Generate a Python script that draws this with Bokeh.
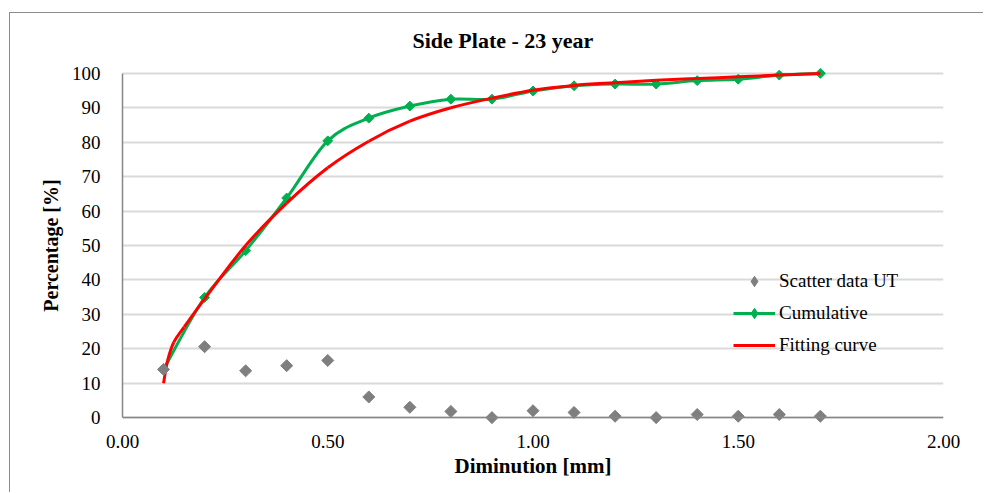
from bokeh.plotting import figure
from bokeh.models import (Range1d, FixedTicker, NumeralTickFormatter, Legend, LegendItem,
                          ColumnDataSource, Span)
from bokeh.embed import file_html
from bokeh.resources import INLINE

# ---------------- data ----------------
diminution = [0.1, 0.2, 0.3, 0.4, 0.5, 0.6, 0.7, 0.8, 0.9, 1.0, 1.1, 1.2, 1.3, 1.4, 1.5, 1.6, 1.7]
scatter_ut = [14.0, 20.6, 13.6, 15.1, 16.6, 6.0, 3.0, 1.8, 0.0, 2.0, 1.5, 0.4, 0.0, 0.9, 0.4, 0.9, 0.4]
cumulative = [14.0, 34.9, 48.5, 63.8, 80.4, 87.0, 90.5, 92.5, 92.5, 94.9, 96.4, 96.9, 96.9, 97.9, 98.3, 99.5, 100.0]
fit_x = [0.10, 0.11, 0.125, 0.15, 0.2, 0.3, 0.4, 0.5, 0.6, 0.7, 0.8, 0.9, 1.0, 1.1, 1.2, 1.3, 1.4, 1.5, 1.6, 1.7]
fit_y = [10.0, 16.6, 21.9, 26.3, 34.5, 50.0, 62.3, 72.6, 80.3, 86.1, 90.0, 92.8, 95.1, 96.5, 97.3, 98.0, 98.5, 99.0, 99.5, 100.0]
x_ticks = [0.0, 0.5, 1.0, 1.5, 2.0]
y_ticks = [0, 10, 20, 30, 40, 50, 60, 70, 80, 90, 100]
title_text = "Side Plate - 23 year"
x_label = "Diminution [mm]"
y_label = "Percentage [%]"
series_names = ["Scatter data UT", "Cumulative", "Fitting curve"]


def smooth(xs, ys):
    """Bezier segments (Catmull-Rom style) through the given points, like Excel's smoothed line."""
    n = len(xs)
    d = dict(x0=[], y0=[], x1=[], y1=[], cx0=[], cy0=[], cx1=[], cy1=[])
    for i in range(n - 1):
        a = max(i - 1, 0)
        b = min(i + 2, n - 1)
        d["x0"].append(xs[i]); d["y0"].append(ys[i])
        d["x1"].append(xs[i + 1]); d["y1"].append(ys[i + 1])
        d["cx0"].append(xs[i] + (xs[i + 1] - xs[a]) / 6.0)
        d["cy0"].append(ys[i] + (ys[i + 1] - ys[a]) / 6.0)
        d["cx1"].append(xs[i + 1] - (xs[b] - xs[i]) / 6.0)
        d["cy1"].append(ys[i + 1] - (ys[b] - ys[i]) / 6.0)
    return ColumnDataSource(d)


FONT = "Liberation Serif"
GREEN = "#00b050"
RED = "#ff0000"
GRAY = "#7f7f7f"
AXIS = "#868686"

p = figure(width=974, height=480, output_backend="svg", toolbar_location=None,
           x_range=Range1d(0, 2), y_range=Range1d(-2, 102),
           min_border_left=112, min_border_right=41, min_border_top=53, min_border_bottom=69,
           margin=(12, 0, 0, 9),
           styles={"border-top": "1px solid #8c8c8c", "border-left": "1px solid #8c8c8c"},
           background_fill_color="white", border_fill_color="white", outline_line_color=None)

# title
p.title.text = title_text
p.title.text_font = FONT
p.title.text_font_size = "22px"
p.title.text_font_style = "bold"
p.title.text_color = "black"
p.title.align = "left"
p.title.offset = 290
p.title.vertical_align = "middle"
p.title.standoff = 26

# axes
for ax in (p.xaxis[0], p.yaxis[0]):
    ax.major_tick_out = 0
    ax.major_tick_in = 0
    ax.minor_tick_out = 0
    ax.minor_tick_in = 0
    ax.axis_line_color = AXIS
    ax.axis_line_width = 1.5
    ax.major_label_text_font = FONT
    ax.major_label_text_font_size = "19px"
    ax.major_label_text_color = "black"
    ax.axis_label_text_font = FONT
    ax.axis_label_text_font_size = "20px"
    ax.axis_label_text_font_style = "bold"
    ax.axis_label_text_color = "black"

p.xaxis.ticker = FixedTicker(ticks=x_ticks)
p.xaxis.formatter = NumeralTickFormatter(format="0.00")
p.xaxis.axis_line_color = None
p.xaxis.major_label_standoff = 10
p.xaxis.axis_label = x_label
p.xaxis.axis_label_text_font_size = "21px"
p.xaxis.axis_label_standoff = 3

p.yaxis.ticker = FixedTicker(ticks=y_ticks)
p.yaxis.bounds = (0, 100)
p.yaxis.major_label_standoff = 22
p.yaxis.axis_label = y_label
p.yaxis.axis_label_standoff = 7

p.xgrid.visible = False
p.ygrid.grid_line_color = "#d9d9d9"
p.ygrid.grid_line_width = 2

# horizontal axis line at y = 0 (the value axis crosses there)
p.add_layout(Span(location=y_ticks[0], dimension="width", line_color=AXIS, line_width=1.5))

# data
pts = ColumnDataSource(dict(x=diminution, s=scatter_ut, c=cumulative))

cum_curve = p.bezier(x0="x0", y0="y0", x1="x1", y1="y1", cx0="cx0", cy0="cy0", cx1="cx1", cy1="cy1",
                     source=smooth(diminution, cumulative), line_color=GREEN, line_width=3)
cum_marks = p.scatter(x="x", y="c", source=pts, marker="square", angle=0.785398, size=7,
                      fill_color=GREEN, line_color=GREEN)
fit_curve = p.bezier(x0="x0", y0="y0", x1="x1", y1="y1", cx0="cx0", cy0="cy0", cx1="cx1", cy1="cy1",
                     source=smooth(fit_x, fit_y), line_color=RED, line_width=3)
sc_marks = p.scatter(x="x", y="s", source=pts, marker="square", angle=0.785398, size=8.5,
                     fill_color=GRAY, line_color=GRAY)

# legend-only marker glyphs (no data: nothing drawn inside the plot)
nan_src = ColumnDataSource(dict(x=[float("nan")], y=[float("nan")]))
sc_leg = p.scatter(x="x", y="y", source=nan_src, marker="diamond", fill_color=GRAY, line_color=GRAY)
cum_leg = p.scatter(x="x", y="y", source=nan_src, marker="diamond", fill_color=GREEN, line_color=GREEN)

legend = Legend(items=[LegendItem(label=series_names[0], renderers=[sc_leg]),
                       LegendItem(label=series_names[1], renderers=[cum_curve, cum_leg]),
                       LegendItem(label=series_names[2], renderers=[fit_curve])],
                location=(611, 63), orientation="vertical",
                border_line_color=None, background_fill_alpha=0,
                padding=0, margin=0, spacing=0,
                glyph_width=42, glyph_height=26, label_height=32, label_standoff=4,
                label_text_font=FONT, label_text_font_size="19px", label_text_color="black")
p.add_layout(legend)

open("out.html", "w").write(file_html(p, INLINE))
